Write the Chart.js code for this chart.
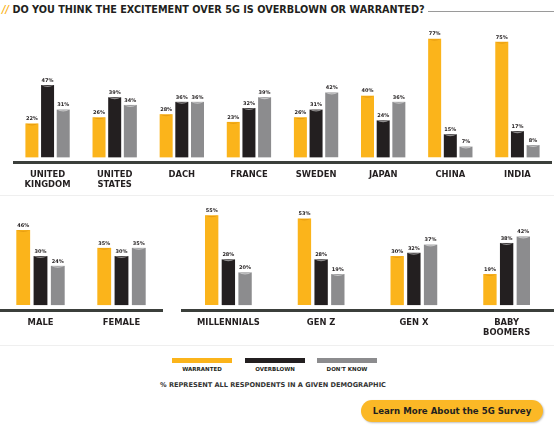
<!DOCTYPE html>
<html>
<head>
<meta charset="utf-8">
<script src="https://cdn.jsdelivr.net/npm/chart.js@4/dist/chart.umd.min.js"></script>
<style>
  body { margin: 0; background: #fff; font-family: "DejaVu Sans", sans-serif; }
  #page { position: relative; width: 554px; height: 434px; overflow: hidden; }
  .box { position: absolute; }
  #title { position: absolute; left: 2px; top: 4px; font-weight: bold; font-size: 9.7px; color: #231f20; white-space: nowrap; }
  #title .sl { color: #fbb41b; font-style: italic; }
  #titleLine { position: absolute; left: 428px; top: 11px; width: 126px; height: 1px; background: #9a9a9a; }
  .sep { position: absolute; left: 0; width: 554px; height: 1px; background: #efefef; }
  .sw { position: absolute; top: 358px; height: 5px; width: 60px; }
  .lg { position: absolute; top: 366px; width: 60px; text-align: center; font-weight: bold; font-size: 5.5px; color: #231f20; }
  #note { position: absolute; left: 160px; top: 381px; font-weight: bold; font-size: 6.6px; color: #333; white-space: nowrap; }
  #btn { position: absolute; left: 361px; top: 400px; width: 182px; height: 22px; border-radius: 11px; background: #fbb826;
         box-shadow: 1px 1px 2px rgba(0,0,0,0.25); font-weight: bold; font-size: 8.6px; color: #231f20; text-align: center; line-height: 22px; }
</style>
</head>
<body>
<div id="page">
  <div id="title"><span class="sl">//</span> DO YOU THINK THE EXCITEMENT OVER 5G IS OVERBLOWN OR WARRANTED?</div>
  <div id="titleLine"></div>

  <div class="box" style="left:0;top:20px;width:554px;height:175px"><canvas id="topChart"></canvas></div>
  <div class="sep" style="top:195px"></div>
  <div class="box" style="left:0;top:200px;width:165px;height:140px"><canvas id="genderChart"></canvas></div>
  <div class="box" style="left:178px;top:200px;width:376px;height:140px"><canvas id="ageChart"></canvas></div>
  <div class="sep" style="top:345px"></div>

  <div class="sw" style="left:172px;background:#fbb41b"></div>
  <div class="sw" style="left:245px;background:#231f20"></div>
  <div class="sw" style="left:317px;background:#8c8c8e"></div>
  <div class="lg" style="left:172px">WARRANTED</div>
  <div class="lg" style="left:245px">OVERBLOWN</div>
  <div class="lg" style="left:317px">DON'T KNOW</div>
  <div id="note">% REPRESENT ALL RESPONDENTS IN A GIVEN DEMOGRAPHIC</div>
  <div id="btn">Learn More About the 5G Survey</div>
</div>

<script>
// countries
const countryLabels = [['UNITED', 'KINGDOM'], ['UNITED', 'STATES'], 'DACH', 'FRANCE', 'SWEDEN', 'JAPAN', 'CHINA', 'INDIA'];
const countryWarranted = [22, 26, 28, 23, 26, 40, 77, 75];
const countryOverblown = [47, 39, 36, 32, 31, 24, 15, 17];
const countryDontKnow = [31, 34, 36, 39, 42, 36, 7, 8];

// gender
const genderLabels = ['MALE', 'FEMALE'];
const genderWarranted = [46, 35];
const genderOverblown = [30, 30];
const genderDontKnow = [24, 35];

// generations
const ageLabels = ['MILLENNIALS', 'GEN Z', 'GEN X', ['BABY', 'BOOMERS']];
const ageWarranted = [55, 53, 30, 19];
const ageOverblown = [28, 28, 32, 38];
const ageDontKnow = [20, 19, 37, 42];

const seriesNames = ['WARRANTED', 'OVERBLOWN', "DON'T KNOW"];
const colors = ['#fbb41b', '#231f20', '#8c8c8e'];

// little percent label + notch on top of every bar
const barTops = {
    id: 'barTops',
    afterDatasetsDraw(chart) {
        const ctx = chart.ctx;
        ctx.save();
        chart.data.datasets.forEach((ds, i) => {
            chart.getDatasetMeta(i).data.forEach((bar, j) => {
                const half = bar.width / 2;
                ctx.fillStyle = i == 0 ? 'rgba(200,120,0,0.35)' : 'rgba(255,255,255,0.5)';
                ctx.beginPath();
                ctx.moveTo(bar.x - half, bar.y);
                ctx.quadraticCurveTo(bar.x, bar.y + 4, bar.x + half, bar.y);
                ctx.quadraticCurveTo(bar.x, bar.y + 1.5, bar.x - half, bar.y);
                ctx.fill();

                ctx.fillStyle = '#231f20';
                ctx.font = 'bold 5px "DejaVu Sans"';
                ctx.textAlign = 'center';
                ctx.textBaseline = 'bottom';
                ctx.fillText(ds.data[j] + '%', bar.x, bar.y - 2);
            });
        });
        ctx.restore();
    }
};

function makeChart(id, labels, w, o, d, yMax, catPct, barPct, pad) {
    const ctx = document.getElementById(id).getContext('2d');
    return new Chart(ctx, {
        type: 'bar',
        data: {
            labels: labels,
            datasets: [w, o, d].map((vals, i) => ({
                label: seriesNames[i],
                data: vals,
                backgroundColor: colors[i],
                categoryPercentage: catPct,
                barPercentage: barPct
            }))
        },
        options: {
            responsive: true,
            maintainAspectRatio: false,
            animation: false,
            layout: { padding: pad },
            plugins: { legend: { display: false }, tooltip: { enabled: false } },
            scales: {
                x: {
                    grid: { display: false, drawTicks: false },
                    border: { display: true, color: '#3b3f3b', width: 3 },
                    ticks: {
                        padding: 8,
                        color: '#231f20',
                        font: { family: 'DejaVu Sans', weight: 'bold', size: 8.4, lineHeight: 1.2 }
                    },
                    afterFit: function(scale) { scale.height = pad.axis; }
                },
                y: { display: false, min: -3, max: yMax }
            }
        },
        plugins: [barTops]
    });
}

makeChart('topChart', countryLabels, countryWarranted, countryOverblown, countryDontKnow,
    80, 0.7, 0.83, { top: 14, left: 14, right: 3, bottom: 0, axis: 33 });
makeChart('genderChart', genderLabels, genderWarranted, genderOverblown, genderDontKnow,
    60, 0.64, 0.8, { top: 7, left: 0, right: 3, bottom: 0, axis: 30 });
makeChart('ageChart', ageLabels, ageWarranted, ageOverblown, ageDontKnow,
    60, 0.54, 0.8, { top: 7, left: 4, right: 1, bottom: 0, axis: 30 });
</script>
</body>
</html>
